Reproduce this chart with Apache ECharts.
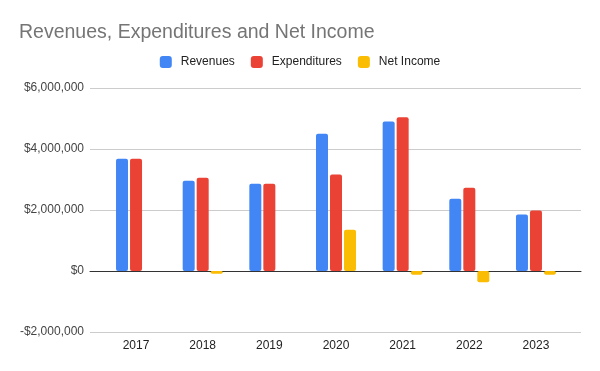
<!DOCTYPE html>
<html>
<head>
<meta charset="utf-8">
<script src="https://cdn.jsdelivr.net/npm/echarts@6/dist/echarts.min.js"></script>
<style>
html,body{margin:0;padding:0;background:#fff;}
#chart{width:600px;height:371px;}
</style>
</head>
<body>
<div id="chart"></div>
<script>
var years = ['2017', '2018', '2019', '2020', '2021', '2022', '2023'];
var revenues = [3680000, 2960000, 2860000, 4500000, 4900000, 2370000, 1850000];
var expenditures = [3680000, 3060000, 2860000, 3160000, 5040000, 2730000, 1980000];
var netIncome = [0, -90000, 0, 1350000, -120000, -370000, -120000];
var yTicks = [-2000000, 0, 2000000, 4000000, 6000000];

var FONT = '"Liberation Sans", Arial, sans-serif';
function money(v) {
  var s = Math.abs(v).toString().replace(/\B(?=(\d{3})+(?!\d))/g, ',');
  return (v < 0 ? '-$' : '$') + s;
}
var yMin = yTicks[0], yMax = yTicks[yTicks.length - 1], yInt = yTicks[1] - yTicks[0];

var chart = echarts.init(document.getElementById('chart'), null, {renderer: 'canvas'});
chart.setOption({
  animation: false,
  color: ['#4285F4', '#EA4335', '#FBBC04'],
  title: {
    text: 'Revenues, Expenditures and Net Income',
    left: 19, top: 23, padding: 0,
    textStyle: {fontFamily: FONT, fontSize: 19.5, fontWeight: 'normal', color: '#757575'}
  },
  legend: {
    top: 56, left: 'center', padding: 0,
    itemWidth: 12, itemHeight: 12, itemGap: 16, icon: 'roundRect',
    textStyle: {fontFamily: FONT, fontSize: 12, color: '#222', padding: [0, 0, 0, 4]},
    data: ['Revenues', 'Expenditures', 'Net Income']
  },
  grid: [
    {left: 102.7, right: 30.7, top: 88, bottom: 39, containLabel: false},
    {left: 90, right: 19, top: 88, bottom: 39, containLabel: false}
  ],
  xAxis: [
    {type: 'category', gridIndex: 0, data: years,
     axisLine: {show: false}, axisTick: {show: false},
     axisLabel: {fontFamily: FONT, fontSize: 12, color: '#222', margin: 8}},
    {type: 'category', gridIndex: 1, data: years,
     axisLine: {show: true, onZero: true, lineStyle: {color: '#333', width: 1}},
     axisTick: {show: false}, axisLabel: {show: false}}
  ],
  yAxis: [
    {type: 'value', gridIndex: 0, min: yMin, max: yMax, interval: yInt,
     axisLabel: {show: false}, splitLine: {show: false}, axisLine: {show: false}, axisTick: {show: false}},
    {type: 'value', gridIndex: 1, min: yMin, max: yMax, interval: yInt,
     axisLine: {show: false}, axisTick: {show: false},
     splitLine: {show: true, lineStyle: {color: '#cccccc', width: 1}},
     axisLabel: {fontFamily: FONT, fontSize: 12, color: '#444', margin: 6, formatter: money}}
  ],
  series: [
    {name: 'Revenues', type: 'bar', xAxisIndex: 0, yAxisIndex: 0, data: revenues,
     barWidth: 12, barGap: '16.7%', itemStyle: {borderRadius: 2}, z: 3},
    {name: 'Expenditures', type: 'bar', xAxisIndex: 0, yAxisIndex: 0, data: expenditures,
     barWidth: 12, barGap: '16.7%', itemStyle: {borderRadius: 2}, z: 3},
    {name: 'Net Income', type: 'bar', xAxisIndex: 0, yAxisIndex: 0, data: netIncome,
     barWidth: 12, barGap: '16.7%', itemStyle: {borderRadius: 2}, z: 3}
  ]
});
</script>
</body>
</html>
